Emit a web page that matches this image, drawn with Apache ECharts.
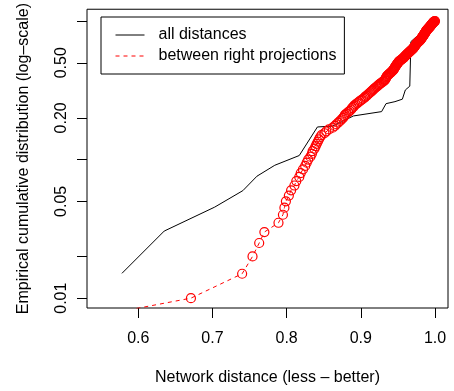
<!DOCTYPE html>
<html>
<head>
<meta charset="utf-8">
<script src="https://cdn.jsdelivr.net/npm/echarts@6/dist/echarts.min.js"></script>
<style>
html,body{margin:0;padding:0;background:#fff;}
#chart{width:454px;height:391px;}
</style>
</head>
<body>
<div id="chart"></div>
<script>
// ---- data ----
const seriesNames = ['all distances', 'between right projections'];

// "all distances" polyline (x = network distance, y = ECDF)
const allX = [0.578, 0.635, 0.703, 0.741, 0.760, 0.784, 0.817, 0.8415, 0.862, 0.872, 0.890, 0.928, 0.934, 0.946, 0.956, 0.960, 0.966, 0.9675, 0.982, 1.0];
const allY = [0.0151, 0.0305, 0.0454, 0.0597, 0.0759, 0.0910, 0.107, 0.172, 0.1745, 0.185, 0.2066, 0.222, 0.2535, 0.262, 0.273, 0.318, 0.339, 0.710, 0.836, 1.0];

// "between right projections" points
const rightX = [
0.375,0.671,0.740,0.754,0.763,0.770,0.789,0.795,0.797,0.799,
0.803,0.806,0.8105,0.813,0.817,0.819,0.822,0.825,0.827,0.829,
0.832,0.834,0.835,0.8375,0.839,0.8405,0.842,0.8435,0.845,0.847,
0.851,0.8535,0.857,0.862,0.865,0.867,0.8695,0.872,0.874,0.876,
0.8775,0.8785,0.8805,0.883,0.885,0.887,0.888,0.890,0.891,0.893,
0.895,0.897,0.899,0.901,0.903,0.905,0.906,0.908,0.9095,0.911,
0.9125,0.9139,0.9154,0.9168,0.9181,0.9195,0.9211,0.9225,0.9238,0.9252,
0.9267,0.928,0.930,0.9309,0.9322,0.933,0.9335,0.934,0.9345,0.9351,
0.9361,0.9372,0.9382,0.9393,0.9402,0.9412,0.9422,0.9432,0.9439,0.9445,
0.945,0.9455,0.946,0.9465,0.9472,0.9477,0.9483,0.949,0.9495,0.9501,
0.9506,0.9512,0.9522,0.9532,0.9543,0.9553,0.9561,0.9571,0.9579,0.9585,
0.9593,0.9599,0.9607,0.9613,0.962,0.9628,0.9634,0.9641,0.9649,0.9656,
0.9663,0.967,0.9677,0.9685,0.9692,0.9699,0.9706,0.9711,0.9714,0.9719,
0.9724,0.9728,0.9732,0.9737,0.9741,0.9745,0.9749,0.9754,0.9761,0.9766,
0.9773,0.9778,0.9784,0.9791,0.9796,0.9801,0.9805,0.9808,0.9812,0.9816,
0.982,0.9823,0.9827,0.9831,0.9834,0.9838,0.9842,0.9845,0.9848,0.9852,
0.9855,0.9857,0.9861,0.9864,0.9867,0.987,0.9873,0.9876,0.9879,0.9882,
0.9885,0.9888,0.9892,0.9897,0.99,0.9905,0.9909,0.9914,0.9917,0.9922,
0.9926,0.993,0.9934,0.9937,0.994,0.9944,0.9947,0.9951,0.9954,0.9958,
0.9961,0.9964,0.9967,0.9971,0.9974,0.9978,0.9982,0.9988,0.9994,1.0
];
const rightY = [
0.005,0.01,0.015,0.02,0.025,0.03,0.035,0.04,0.045,0.05,
0.055,0.06,0.065,0.07,0.075,0.08,0.085,0.09,0.095,0.1,
0.105,0.11,0.115,0.12,0.125,0.13,0.135,0.14,0.145,0.15,
0.155,0.16,0.165,0.17,0.175,0.18,0.185,0.19,0.195,0.2,
0.205,0.21,0.215,0.22,0.225,0.23,0.235,0.24,0.245,0.25,
0.255,0.26,0.265,0.27,0.275,0.28,0.285,0.29,0.295,0.3,
0.305,0.31,0.315,0.32,0.325,0.33,0.335,0.34,0.345,0.35,
0.355,0.36,0.365,0.37,0.375,0.38,0.385,0.39,0.395,0.4,
0.405,0.41,0.415,0.42,0.425,0.43,0.435,0.44,0.445,0.45,
0.455,0.46,0.465,0.47,0.475,0.48,0.485,0.49,0.495,0.5,
0.505,0.51,0.515,0.52,0.525,0.53,0.535,0.54,0.545,0.55,
0.555,0.56,0.565,0.57,0.575,0.58,0.585,0.59,0.595,0.6,
0.605,0.61,0.615,0.62,0.625,0.63,0.635,0.64,0.645,0.65,
0.655,0.66,0.665,0.67,0.675,0.68,0.685,0.69,0.695,0.7,
0.705,0.71,0.715,0.72,0.725,0.73,0.735,0.74,0.745,0.75,
0.755,0.76,0.765,0.77,0.775,0.78,0.785,0.79,0.795,0.8,
0.805,0.81,0.815,0.82,0.825,0.83,0.835,0.84,0.845,0.85,
0.855,0.86,0.865,0.87,0.875,0.88,0.885,0.89,0.895,0.9,
0.905,0.91,0.915,0.92,0.925,0.93,0.935,0.94,0.945,0.95,
0.955,0.96,0.965,0.97,0.975,0.98,0.985,0.99,0.995,1
];

// axis ticks
const xTicks = [0.6, 0.7, 0.8, 0.9, 1.0];
const xTickLabels = ['0.6', '0.7', '0.8', '0.9', '1.0'];
const yTicks = [0.01, 0.02, 0.05, 0.1, 0.2, 0.5, 1];
const yLabelTicks = [0.01, 0.05, 0.2, 0.5];
const yLabelTexts = ['0.01', '0.05', '0.20', '0.50'];

const xMin = 0.5309, xMax = 1.0175;
const yMin = 0.00849, yMax = 1.217;

const FONT = '"Liberation Sans", Arial, Helvetica, sans-serif';

function pairs(xs, ys) { return xs.map((x, i) => [x, ys[i]]); }
function log10(v) { return Math.log(v) / Math.LN10; }

const chart = echarts.init(document.getElementById('chart'), null, {renderer: 'canvas'});
chart.setOption({
  animation: false,
  backgroundColor: '#fff',
  textStyle: {fontFamily: FONT},
  grid: {left: 87, top: 5, width: 361, height: 303, show: true, borderColor: '#000', borderWidth: 1, backgroundColor: 'transparent', containLabel: false},
  legend: {
    left: 101, top: 17, orient: 'vertical',
    padding: [10, 8, 10, 14],
    itemWidth: 29, itemHeight: 14, itemGap: 5,
    borderColor: '#000', borderWidth: 1, borderRadius: 0,
    backgroundColor: '#fff',
    selectedMode: false,
    data: seriesNames,
    itemStyle: {opacity: 0},
    lineStyle: {width: 1},
    textStyle: {fontSize: 16, color: '#000', fontFamily: FONT, lineHeight: 16, padding: [0, 0, 0, 9]}
  },
  xAxis: {
    type: 'value', min: xMin, max: xMax,
    name: 'Network distance (less – better)',
    nameLocation: 'middle', nameGap: 62,
    nameTextStyle: {fontSize: 16, color: '#000', fontFamily: FONT},
    axisLine: {show: false, onZero: false},
    splitLine: {show: false},
    axisTick: {show: true, length: 10, inside: false, customValues: xTicks, lineStyle: {color: '#000', width: 1}},
    axisLabel: {show: true, customValues: xTicks, margin: 23, fontSize: 16, color: '#000', fontFamily: FONT,
      formatter: function (v) { const k = xTicks.findIndex(t => Math.abs(t - v) < 1e-9); return k >= 0 ? xTickLabels[k] : ''; }}
  },
  yAxis: [
    {
      type: 'log', logBase: 10, min: yMin, max: yMax, position: 'left', show: false,
      axisLine: {show: false, onZero: false}, axisTick: {show: false}, axisLabel: {show: false}, splitLine: {show: false}
    },
    {
      type: 'value', min: log10(yMin), max: log10(yMax), position: 'left',
      name: 'Empirical cumulative distribution (log–scale)',
      nameLocation: 'middle', nameGap: 55,
      nameTextStyle: {fontSize: 16, color: '#000', fontFamily: FONT},
      axisLine: {show: false, onZero: false},
      splitLine: {show: false},
      axisTick: {show: true, length: 10, inside: false, customValues: yTicks.map(log10), lineStyle: {color: '#000', width: 1}},
      axisLabel: {show: true, rotate: 90, margin: 17, fontSize: 16, color: '#000', fontFamily: FONT,
        customValues: yLabelTicks.map(log10),
        formatter: function (v) { const k = yLabelTicks.findIndex(t => Math.abs(log10(t) - v) < 1e-6); return k >= 0 ? yLabelTexts[k] : ''; }}
    }
  ],
  series: [
    {
      name: seriesNames[0], type: 'line', yAxisIndex: 0,
      data: pairs(allX, allY),
      symbol: 'none', color: '#000',
      lineStyle: {color: '#000', width: 1},
      clip: true, z: 2
    },
    {
      name: seriesNames[1], type: 'line', yAxisIndex: 0,
      data: pairs(rightX, rightY),
      symbol: 'circle', symbolSize: 9, showAllSymbol: true,
      color: '#ff0000',
      itemStyle: {color: 'rgba(255,0,0,0)', borderColor: '#ff0000', borderWidth: 1.2},
      lineStyle: {color: '#ff0000', width: 1, type: [4, 4]},
      clip: true, z: 3
    }
  ]
});
</script>
</body>
</html>
